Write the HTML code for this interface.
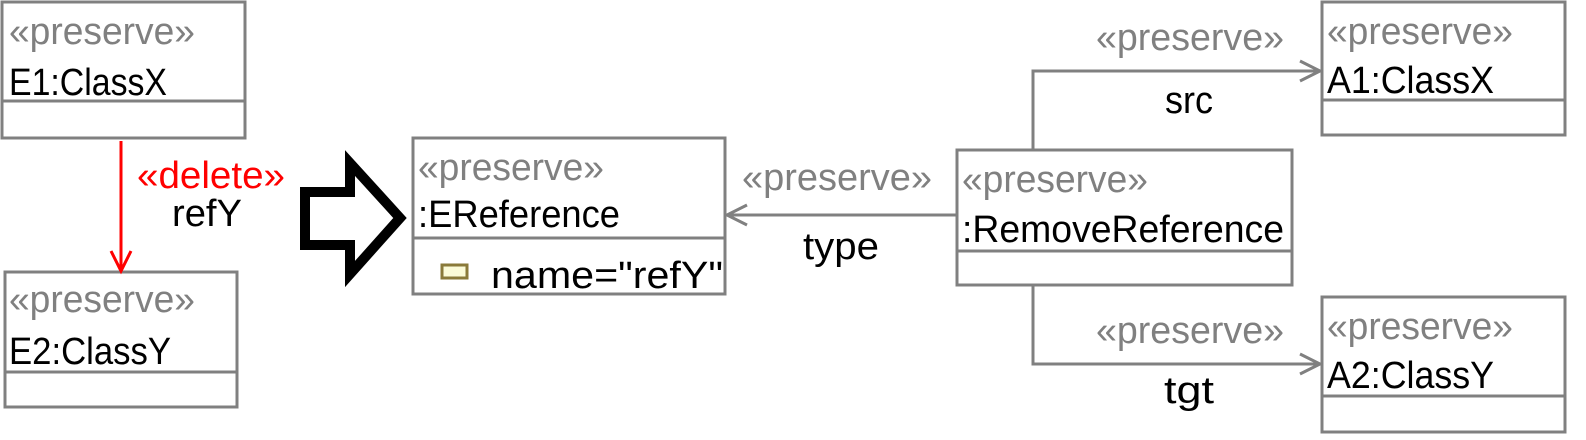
<!DOCTYPE html>
<html><head><style>body{margin:0;background:#fff}svg{display:block}text{font-family:"Liberation Sans",sans-serif;font-size:38px}</style></head>
<body>
<svg width="1586" height="440" viewBox="0 0 1586 440" xmlns="http://www.w3.org/2000/svg">
<g fill="#fff" stroke="#808080" stroke-width="3">
<rect x="2" y="2" width="243" height="136"/><line x1="2" y1="101" x2="245" y2="101"/>
<rect x="5" y="272" width="232" height="135"/><line x1="5" y1="372" x2="237" y2="372"/>
<rect x="413" y="138" width="312" height="156"/><line x1="413" y1="238" x2="725" y2="238"/>
<rect x="957" y="150" width="335" height="135"/><line x1="957" y1="251" x2="1292" y2="251"/>
<rect x="1322" y="2" width="243" height="133"/><line x1="1322" y1="100" x2="1565" y2="100"/>
<rect x="1322" y="297" width="243" height="135"/><line x1="1322" y1="396" x2="1565" y2="396"/>
</g>
<g fill="none" stroke="#808080" stroke-width="3">
<line x1="727" y1="215" x2="957" y2="215"/><polyline points="747,205 727,215 747,225"/>
<polyline points="1033,150 1033,71 1320,71"/><polyline points="1300,61 1320,71 1300,81"/>
<polyline points="1033,285 1033,364 1320,364"/><polyline points="1300,354 1320,364 1300,374"/>
</g>
<g fill="none" stroke="#f00" stroke-width="3">
<line x1="121" y1="141" x2="121" y2="271"/><polyline points="111,251 121,271 131,251"/>
</g>
<polygon points="305,192 350,192 350,163 400,218 350,274 350,245 305,245" fill="#fff" stroke="#000" stroke-width="10"/>
<rect x="442" y="265" width="25" height="13" fill="#fbfbd8" stroke="#8a7a3a" stroke-width="3"/>
<g fill="#808080">
<text x="9" y="44" textLength="186" lengthAdjust="spacingAndGlyphs">«preserve»</text>
<text x="9" y="312" textLength="186" lengthAdjust="spacingAndGlyphs">«preserve»</text>
<text x="418" y="180" textLength="186" lengthAdjust="spacingAndGlyphs">«preserve»</text>
<text x="962" y="192" textLength="186" lengthAdjust="spacingAndGlyphs">«preserve»</text>
<text x="1327" y="44" textLength="186" lengthAdjust="spacingAndGlyphs">«preserve»</text>
<text x="1327" y="339" textLength="186" lengthAdjust="spacingAndGlyphs">«preserve»</text>
<text x="742" y="190" textLength="190" lengthAdjust="spacingAndGlyphs">«preserve»</text>
<text x="1096" y="50" textLength="188" lengthAdjust="spacingAndGlyphs">«preserve»</text>
<text x="1096" y="343" textLength="188" lengthAdjust="spacingAndGlyphs">«preserve»</text>
</g>
<g fill="#000">
<text x="9" y="95" textLength="158" lengthAdjust="spacingAndGlyphs">E1:ClassX</text>
<text x="9" y="364" textLength="162" lengthAdjust="spacingAndGlyphs">E2:ClassY</text>
<text x="418" y="227" textLength="202" lengthAdjust="spacingAndGlyphs">:EReference</text>
<text x="491" y="288" textLength="232" lengthAdjust="spacingAndGlyphs">name="refY"</text>
<text x="962" y="242" textLength="322" lengthAdjust="spacingAndGlyphs">:RemoveReference</text>
<text x="1327" y="93" textLength="167" lengthAdjust="spacingAndGlyphs">A1:ClassX</text>
<text x="1327" y="388" textLength="167" lengthAdjust="spacingAndGlyphs">A2:ClassY</text>
<text x="172" y="226" textLength="70" lengthAdjust="spacingAndGlyphs">refY</text>
<text x="803" y="259" textLength="76" lengthAdjust="spacingAndGlyphs">type</text>
<text x="1165" y="113" textLength="48" lengthAdjust="spacingAndGlyphs">src</text>
<text x="1164" y="403" textLength="50" lengthAdjust="spacingAndGlyphs">tgt</text>
</g>
<text x="137" y="188" fill="#f00" textLength="148" lengthAdjust="spacingAndGlyphs">«delete»</text>
</svg>
</body></html>
